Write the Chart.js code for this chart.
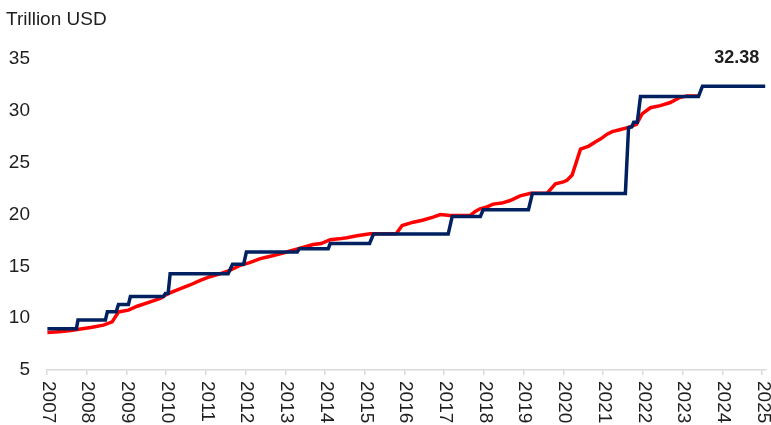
<!DOCTYPE html>
<html>
<head>
<meta charset="utf-8">
<script src="https://cdn.jsdelivr.net/npm/chart.js@4.4.1/dist/chart.umd.min.js"></script>
<style>
  html, body { margin: 0; padding: 0; background: #fff; }
  #wrap { width: 771px; height: 425px; }
</style>
</head>
<body>
<div id="wrap"><canvas id="chart" width="771" height="425"></canvas></div>
<script>
// Deuda federal (rojo) y techo de deuda (azul), en billones de USD
const unitLabel = "Trillion USD";
const yearTicks = [2007, 2008, 2009, 2010, 2011, 2012, 2013, 2014, 2015, 2016,
  2017, 2018, 2019, 2020, 2021, 2022, 2023, 2024, 2025];

const debtYears = [2007.01, 2007.3, 2007.6, 2007.76, 2008.1, 2008.42, 2008.64, 2008.8, 2009.05,
  2009.27, 2009.6, 2009.85, 2010.05, 2010.36, 2010.6, 2010.86, 2011.1, 2011.37, 2011.6, 2011.87,
  2012.1, 2012.37, 2012.6, 2012.87, 2013.1, 2013.33, 2013.7, 2013.9, 2014.13, 2014.35, 2014.55,
  2014.8, 2015.14, 2015.79, 2015.94, 2016.22, 2016.45, 2016.72, 2016.9, 2017.15, 2017.65,
  2017.78, 2017.9, 2018.05, 2018.23, 2018.45, 2018.66, 2018.91, 2019.18, 2019.59, 2019.8,
  2020.0, 2020.09, 2020.22, 2020.43, 2020.64, 2020.8, 2020.94, 2021.1, 2021.23, 2021.44,
  2021.64, 2021.84, 2021.98, 2022.19, 2022.44, 2022.69, 2022.93, 2023.11, 2023.4];
const debtValues = [8.62, 8.7, 8.8, 8.9, 9.1, 9.33, 9.64, 10.6, 10.77,
  11.15, 11.57, 11.9, 12.37, 12.85, 13.2, 13.65, 14.0, 14.3, 14.6, 15.1,
  15.35, 15.74, 15.95, 16.2, 16.45, 16.7, 17.1, 17.2, 17.57, 17.65, 17.76,
  17.95, 18.15, 18.15, 18.94, 19.26, 19.45, 19.75, 20.0, 19.9, 19.9,
  20.3, 20.55, 20.7, 21.0, 21.1, 21.35, 21.8, 22.05, 22.05, 22.95,
  23.15, 23.3, 23.8, 26.3, 26.6, 27.0, 27.3, 27.75, 28.0, 28.2,
  28.4, 28.7, 29.7, 30.3, 30.5, 30.8, 31.28, 31.44, 31.44];

const ceilingYears = [2007.01, 2007.74, 2007.78, 2008.47, 2008.52, 2008.74, 2008.8, 2009.05,
  2009.1, 2009.93, 2009.98, 2010.05, 2010.1, 2011.56, 2011.67, 2011.95, 2012.02, 2013.3,
  2013.35, 2014.08, 2014.13, 2015.12, 2015.22, 2017.1, 2017.2, 2017.91, 2017.98, 2019.12,
  2019.22, 2021.56, 2021.64, 2021.72, 2021.77, 2021.86, 2021.94, 2023.4, 2023.5, 2025.08];
const ceilingValues = [8.97, 8.97, 9.82, 9.82, 10.62, 10.62, 11.32, 11.32,
  12.1, 12.1, 12.39, 12.39, 14.29, 14.29, 15.19, 15.19, 16.39, 16.39,
  16.7, 16.7, 17.2, 17.2, 18.11, 18.11, 19.81, 19.81, 20.46, 20.46,
  22.03, 22.03, 28.4, 28.45, 28.9, 28.9, 31.38, 31.38, 32.38, 32.38];

const textColor = "#1f1f1f";
const axisFont = { family: "'Liberation Sans', Arial, sans-serif", size: 19 };

function toPoints(xs, ys) {
  return xs.map((x, i) => ({ x: x, y: ys[i] }));
}

// textos extra: unidad, años girados y etiqueta del último valor
const extraText = {
  id: "extraText",
  afterDraw(chart) {
    const ctx = chart.ctx;
    const xs = chart.scales.x;
    const ys = chart.scales.y;
    ctx.save();
    ctx.fillStyle = textColor;
    ctx.font = "19px 'Liberation Sans', Arial, sans-serif";
    ctx.textBaseline = "middle";
    ctx.textAlign = "left";
    ctx.fillText(unitLabel, 6, 20);

    yearTicks.forEach(yr => {
      const px = xs.getPixelForValue(yr);
      ctx.save();
      ctx.translate(px + 1, xs.top + 11);
      ctx.rotate(Math.PI / 2);
      ctx.textAlign = "left";
      ctx.fillText(String(yr), 0, 0);
      ctx.restore();
    });

    const lastX = ceilingYears[ceilingYears.length - 1];
    const lastV = ceilingValues[ceilingValues.length - 1];
    ctx.font = "bold 18px 'Liberation Sans', Arial, sans-serif";
    ctx.textAlign = "right";
    ctx.fillText(lastV.toFixed(2), xs.getPixelForValue(lastX) - 6, ys.getPixelForValue(lastV) - 28);
    ctx.restore();
  }
};

new Chart(document.getElementById("chart"), {
  type: "line",
  data: {
    datasets: [
      {
        label: "Debt ceiling",
        data: toPoints(ceilingYears, ceilingValues),
        borderColor: "#002060",
        borderWidth: 3.5,
        pointRadius: 0,
        tension: 0,
        fill: false
      },
      {
        label: "Debt",
        data: toPoints(debtYears, debtValues),
        borderColor: "#ff0000",
        borderWidth: 3.5,
        pointRadius: 0,
        tension: 0,
        fill: false
      }
    ]
  },
  options: {
    responsive: false,
    animation: false,
    layout: { padding: { top: 59, right: 5, left: 0, bottom: 0 } },
    plugins: { legend: { display: false }, tooltip: { enabled: false } },
    scales: {
      x: {
        type: "linear",
        min: 2007,
        max: 2025.1,
        afterBuildTicks: axis => { axis.ticks = yearTicks.map(v => ({ value: v })); },
        afterFit: axis => { axis.height = 55; },
        ticks: { display: false },
        grid: { drawOnChartArea: false, drawTicks: true, tickLength: 5, color: "#d9d9d9", lineWidth: 1.5 },
        border: { display: true, color: "#d9d9d9", width: 1.5 }
      },
      y: {
        min: 5,
        max: 35,
        afterFit: axis => { axis.width = 47; },
        ticks: { stepSize: 5, color: textColor, font: axisFont, padding: 17 },
        grid: { display: false, drawTicks: false },
        border: { display: false }
      }
    }
  },
  plugins: [extraText]
});
</script>
</body>
</html>
